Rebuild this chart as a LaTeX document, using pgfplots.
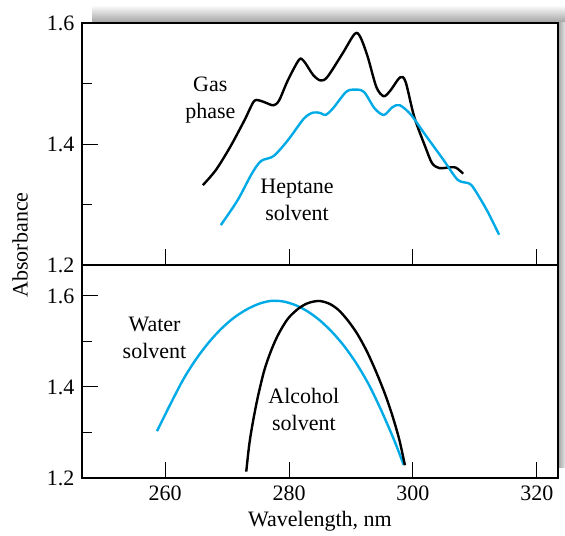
\documentclass[border=0pt]{standalone}
\usepackage{fontspec}
\setmainfont{Liberation Serif}
\usepackage{pgfplots}
\pgfplotsset{compat=1.18}
\definecolor{cblue}{RGB}{0,170,230}
\begin{document}
\fontsize{11}{13}\selectfont
\begin{tikzpicture}
\useasboundingbox (-41pt,-28.5pt) rectangle (241.5pt,239pt);
% shadow
\shade[top color=gray!8, bottom color=gray!75] (5pt,227.5pt) rectangle (241.5pt,235.5pt);
\shade[left color=gray!75, right color=gray!20] (238pt,5.5pt) rectangle (241.5pt,227.5pt);
\pgfplotsset{
  every axis/.style={
    width=238pt, scale only axis,
    xmin=246.6, xmax=323.4,
    axis line style={line width=0.7pt},
    tick style={line width=0.5pt, black},
    xtick={260,280,300,320},
    ticklabel style={font=\fontsize{11}{13}\selectfont},
    /pgf/number format/assume math mode=true,
    /pgf/number format/fixed, /pgf/number format/precision=1,
    /pgf/number format/fixed zerofill,
    xtick pos=left, ytick pos=left,
    tick align=inside,
    major tick length=8pt, minor tick length=5pt,
    clip=false,
  }
}
% bottom panel
\begin{axis}[
  at={(0pt,0pt)}, anchor=south west,
  height=106.5pt,
  ymin=1.2, ymax=1.668,
  ytick={1.2,1.4,1.6}, minor ytick={1.3,1.5},
  xticklabel style={/pgf/number format/fixed zerofill=false, /pgf/number format/precision=0},
  xlabel={Wavelength, nm},
  xlabel style={yshift=2pt},
]
\addplot[cblue, line width=1.2pt, smooth] coordinates {
(258.7,1.303) (261,1.366) (263,1.418) (265,1.461) (267,1.497) (269,1.527) (271,1.551)
(273,1.569) (275,1.582) (277,1.589) (279,1.588) (281,1.580) (283,1.566) (285,1.546)
(287,1.520) (289,1.488) (291,1.449) (293,1.402) (295,1.345) (297,1.282) (298.5,1.229)};
\addplot[black, line width=1.2pt, smooth] coordinates {
(273.1,1.214) (273.6,1.275) (274.2,1.325) (275.0,1.380) (276.0,1.436) (277.0,1.476)
(278.0,1.508) (279.0,1.533) (280.0,1.553) (281.5,1.572) (283.0,1.584) (284.8,1.589)
(286.5,1.583) (288.0,1.569) (289.5,1.546) (291.0,1.517) (292.5,1.480) (294.0,1.435)
(295.5,1.384) (296.7,1.336) (297.8,1.284) (298.7,1.228)};
\node[align=center, font=\fontsize{11}{13.5}\selectfont] at (axis cs:258.3,1.508) {Water\\solvent};
\node[align=center, font=\fontsize{11}{13.5}\selectfont] at (axis cs:282.4,1.350) {Alcohol\\solvent};
\end{axis}
% top panel
\begin{axis}[
  at={(0pt,106.5pt)}, anchor=south west,
  height=121pt,
  ymin=1.2, ymax=1.6,
  ytick={1.2,1.4,1.6}, minor ytick={1.3,1.5},
  xticklabels={},
]
\addplot[black, line width=1.2pt, smooth, tension=0.5] coordinates {
(266.1,1.332) (268.2,1.357) (270.5,1.395) (272.8,1.439) (274.3,1.470) (275.2,1.472)
(276.3,1.468) (277.5,1.464) (278.4,1.472) (279.8,1.505) (281.6,1.539) (282.4,1.537)
(283.9,1.514) (285.1,1.505) (286.2,1.511) (288.6,1.549) (290.6,1.582) (291.5,1.577)
(292.7,1.544) (294.1,1.494) (295.3,1.479) (296.4,1.489) (297.9,1.510) (298.8,1.503)
(300.2,1.445) (302.0,1.395) (303.1,1.368) (304.3,1.360) (305.5,1.361) (306.9,1.361)
(308.1,1.351)};
\addplot[cblue, line width=1.2pt, smooth, tension=0.5] coordinates {
(269.0,1.266) (271.7,1.307) (274.0,1.351) (275.5,1.372) (277.5,1.380) (279.8,1.406)
(282.4,1.442) (283.9,1.452) (285.1,1.451) (285.9,1.448) (287.1,1.459) (289.2,1.486)
(290.6,1.490) (292.1,1.486) (293.8,1.459) (295.3,1.448) (296.7,1.461) (297.9,1.464)
(299.7,1.448) (302.0,1.415) (304.9,1.374) (307.2,1.341) (309.0,1.335) (309.8,1.327)
(311.9,1.291) (313.9,1.250)};
\node[align=center, font=\fontsize{11}{13.5}\selectfont] at (axis cs:267.3,1.472) {Gas\\phase};
\node[align=center, font=\fontsize{11}{13.5}\selectfont] at (axis cs:281.3,1.308) {Heptane\\solvent};
\end{axis}
\node[rotate=90, font=\fontsize{11}{13}\selectfont] at (-31pt,116.5pt) {Absorbance};
\end{tikzpicture}
\end{document}
